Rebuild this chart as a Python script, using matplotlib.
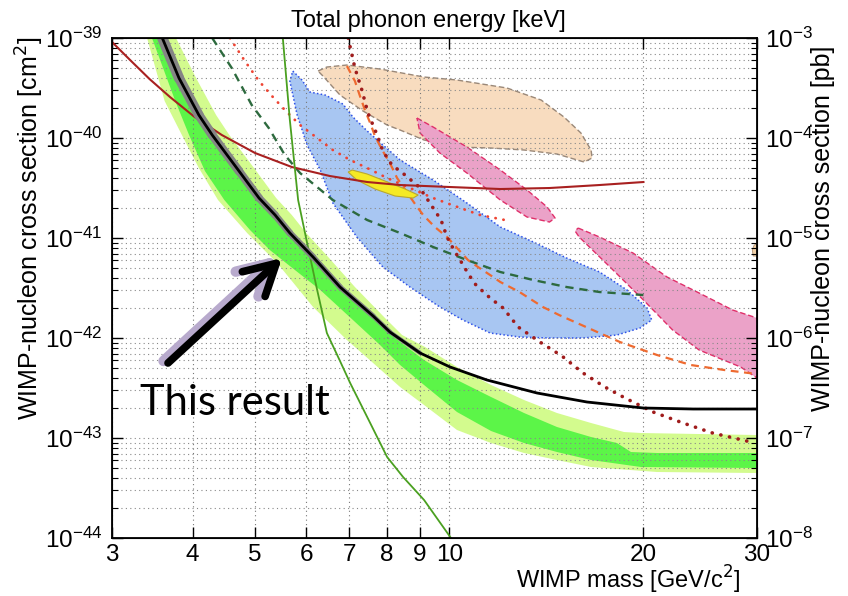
import numpy as np
import matplotlib
matplotlib.use('Agg')
import matplotlib.pyplot as plt
from matplotlib.ticker import NullLocator, FixedLocator, FixedFormatter

plt.rcParams['font.family'] = ['Liberation Sans', 'DejaVu Sans']
plt.rcParams['axes.unicode_minus'] = False

# WIMP mass [GeV/c^2] and log10(cross section [cm^2])
black_mass = [3.59, 3.81, 4.09, 4.29, 4.72, 5.07, 5.37, 5.66, 6.15, 6.77, 7.62, 8.09, 9.01, 10.03, 11.44, 13.68, 16.35, 20.0, 23.9, 30]
black_lsig = [-39.00, -39.40, -39.77, -39.97, -40.33, -40.60, -40.77, -40.95, -41.19, -41.49, -41.78, -41.94, -42.15, -42.29, -42.42, -42.55, -42.64, -42.70, -42.71, -42.71]

# expected sensitivity bands (2 sigma light, 1 sigma dark)
lu_mass = [3.77, 4.05, 4.35, 4.56, 5.02, 5.39, 5.70, 6.00, 6.49, 7.14, 7.95, 8.45, 9.17, 10.28, 11.61, 13.06, 14.69, 16.59, 18.66, 19.83, 30]
lu_lsig = [-39.00, -39.40, -39.77, -39.97, -40.33, -40.60, -40.77, -40.95, -41.19, -41.49, -41.80, -41.97, -42.09, -42.29, -42.47, -42.62, -42.75, -42.85, -42.94, -42.95, -42.97]
ll_mass = [3.40, 3.62, 3.85, 4.09, 4.38, 4.86, 5.41, 6.15, 6.94, 7.62, 8.39, 9.14, 10.28, 11.61, 13.06, 14.69, 16.59, 21.0, 30]
ll_lsig = [-39.00, -39.63, -39.97, -40.30, -40.62, -40.95, -41.25, -41.69, -42.02, -42.25, -42.49, -42.67, -42.92, -43.05, -43.15, -43.22, -43.29, -43.34, -43.35]
du_mass = [3.62, 3.85, 4.14, 4.33, 4.77, 5.12, 5.43, 5.72, 6.21, 6.84, 7.70, 8.24, 9.14, 10.28, 11.61, 13.06, 14.69, 16.59, 18.2, 19.13, 21.0, 30]
du_lsig = [-39.00, -39.40, -39.77, -39.97, -40.33, -40.60, -40.77, -40.95, -41.19, -41.49, -41.80, -42.00, -42.22, -42.42, -42.59, -42.75, -42.89, -42.99, -43.05, -43.14, -43.15, -43.15]
dl_mass = [3.46, 3.76, 3.95, 4.18, 4.48, 4.91, 5.27, 5.66, 6.31, 7.09, 7.81, 8.39, 9.14, 10.28, 11.61, 13.06, 14.69, 16.59, 19.83, 30]
dl_lsig = [-39.00, -39.63, -39.97, -40.33, -40.62, -40.92, -41.12, -41.28, -41.52, -41.82, -42.07, -42.27, -42.47, -42.74, -42.93, -43.05, -43.14, -43.22, -43.29, -43.30]

# other limits
red_mass = [3.00, 3.20, 3.43, 3.69, 4.03, 4.44, 5.00, 5.70, 6.53, 7.46, 8.39, 10.03, 12.0, 14.3, 17.1, 20.0]
red_lsig = [-39.04, -39.22, -39.41, -39.59, -39.79, -39.97, -40.15, -40.29, -40.38, -40.44, -40.47, -40.49, -40.51, -40.50, -40.47, -40.44]
grn_mass = [5.52, 5.66, 5.83, 6.02, 6.24, 6.46, 6.77, 7.02, 7.54, 8.01, 8.48, 9.14, 10.06]
grn_lsig = [-39.00, -39.82, -40.62, -41.05, -41.52, -41.95, -42.23, -42.45, -42.85, -43.19, -43.39, -43.62, -44.00]
dgd_mass = [4.29, 4.60, 4.94, 5.25, 5.56, 5.87, 6.60, 7.46, 8.39, 9.44, 10.65, 12.0, 13.5, 15.2, 17.1, 20.0]
dgd_lsig = [-39.00, -39.30, -39.67, -39.90, -40.17, -40.35, -40.62, -40.82, -40.95, -41.09, -41.22, -41.34, -41.42, -41.49, -41.54, -41.57]
lrd_mass = [4.57, 4.82, 5.07, 5.31, 5.56, 5.87, 6.24, 6.60, 7.02, 7.46, 8.01, 8.69, 9.44, 10.10, 11.16, 12.2]
lrd_lsig = [-39.00, -39.23, -39.43, -39.58, -39.72, -39.87, -40.00, -40.12, -40.22, -40.30, -40.40, -40.50, -40.60, -40.67, -40.77, -40.82]
drd_mass = [6.97, 7.14, 7.32, 7.48, 7.73, 7.89, 8.15, 8.54, 8.98, 9.20, 9.44, 9.71, 9.92, 10.17, 10.46, 10.73, 11.00, 11.57, 12.12, 12.79, 13.82, 14.95, 16.12, 17.43, 18.73, 20.7, 23.04, 25.6, 29.8]
drd_lsig = [-39.00, -39.30, -39.52, -39.75, -39.97, -40.13, -40.27, -40.37, -40.49, -40.59, -40.70, -40.82, -40.99, -41.12, -41.25, -41.37, -41.47, -41.60, -41.70, -41.89, -42.04, -42.18, -42.35, -42.49, -42.60, -42.74, -42.85, -42.95, -43.05]
ord_mass = [6.94, 7.14, 7.27, 7.40, 7.54, 7.67, 7.87, 8.09, 8.30, 8.85, 9.11, 9.50, 9.92, 10.28, 10.69, 11.08, 11.57, 12.0, 12.85, 13.97, 14.8, 15.78, 17.1, 18.39, 21.0, 23.7, 26.7, 30]
ord_lsig = [-39.28, -39.43, -39.58, -39.72, -39.85, -39.98, -40.12, -40.25, -40.40, -40.66, -40.77, -40.89, -40.99, -41.10, -41.22, -41.29, -41.37, -41.44, -41.54, -41.69, -41.77, -41.85, -41.95, -42.04, -42.17, -42.27, -42.32, -42.36]

# signal regions (closed contours)
blue_mass = [5.72, 5.91, 6.08, 6.42, 6.84, 7.09, 7.46, 7.89, 8.39, 9.44, 10.65, 12.0, 13.5, 15.2, 17.1, 18.86, 20.26, 20.6, 19.76, 18.2, 16.12, 14.3, 12.85, 11.57, 10.5, 9.67, 8.69, 7.89, 7.19, 6.60, 6.31, 6.02, 5.81, 5.66]
blue_lsig = [-39.33, -39.42, -39.54, -39.57, -39.66, -39.79, -39.93, -40.07, -40.22, -40.42, -40.65, -40.89, -41.04, -41.20, -41.34, -41.52, -41.70, -41.82, -41.90, -41.97, -42.00, -42.00, -41.99, -41.95, -41.82, -41.69, -41.49, -41.29, -40.99, -40.65, -40.32, -40.07, -39.77, -39.43]
tan_mass = [6.26, 6.46, 6.94, 7.81, 9.14, 10.28, 12.29, 13.88, 15.06, 16.0, 16.59, 16.65, 16.18, 14.69, 13.06, 11.61, 10.28, 9.14, 8.39, 8.01, 7.35, 6.77, 6.37]
tan_lsig = [-39.33, -39.29, -39.27, -39.31, -39.39, -39.42, -39.50, -39.62, -39.79, -39.95, -40.12, -40.20, -40.24, -40.16, -40.12, -40.10, -40.09, -40.02, -39.92, -39.87, -39.73, -39.57, -39.38]
pink1_mass = [8.91, 9.44, 10.65, 12.0, 13.2, 14.18, 14.59, 14.3, 13.2, 12.0, 10.65, 9.67, 9.01]
pink1_lsig = [-39.80, -39.89, -40.09, -40.32, -40.52, -40.69, -40.80, -40.84, -40.79, -40.62, -40.35, -40.15, -39.95]
pink2_mass = [15.84, 17.1, 19.27, 21.76, 24.4, 27.5, 30, 30, 28.3, 24.4, 22.2, 20.0, 17.75, 15.9, 15.67]
pink2_lsig = [-40.90, -40.99, -41.15, -41.39, -41.55, -41.72, -41.80, -42.40, -42.29, -42.12, -41.92, -41.62, -41.29, -40.99, -40.93]
yel_mass = [6.97, 7.07, 7.46, 7.95, 8.54, 8.95, 8.79, 8.24, 7.67, 7.19]
yel_lsig = [-40.34, -40.32, -40.36, -40.43, -40.51, -40.57, -40.60, -40.58, -40.51, -40.42]
blob_mass = [29.5, 29.7, 30, 30, 29.6]
blob_lsig = [-41.12, -41.07, -41.06, -41.18, -41.18]

x_ticks = [3, 4, 5, 6, 7, 8, 9, 10, 20, 30]
x_labels = ['3', '4', '5', '6', '7', '8', '9', '10', '20', '30']


def sig(v):
    return np.power(10.0, v)


fig = plt.figure(figsize=(8.48, 5.96), dpi=100)
ax = fig.add_axes([0.1321, 0.0973, 0.7606, 0.8389])
ax.set_xscale('log')
ax.set_yscale('log')
ax.set_xlim(3, 30)
ax.set_ylim(1e-44, 1e-39)

# bands
ax.fill(lu_mass + ll_mass[::-1], list(sig(lu_lsig)) + list(sig(ll_lsig[::-1])),
        color='#d3fb8e', lw=0, zorder=1)
ax.fill(du_mass + dl_mass[::-1], list(sig(du_lsig)) + list(sig(dl_lsig[::-1])),
        color='#5cf548', lw=0, zorder=1.1)

# regions
ax.fill(tan_mass, sig(tan_lsig), facecolor='#f8dcbf', edgecolor='#9a8878', lw=1.0, ls=(0, (4, 2)), zorder=1.2)
ax.fill(blue_mass, sig(blue_lsig), facecolor='#a8c6f2', edgecolor='#2f52e8', lw=1.1, ls=(0, (1, 1.5)), zorder=1.2)
ax.fill(pink1_mass, sig(pink1_lsig), facecolor='#eba2c8', edgecolor='#e0306a', lw=1.0, ls=(0, (4, 2)), zorder=1.2)
ax.fill(pink2_mass, sig(pink2_lsig), facecolor='#eba2c8', edgecolor='#e0306a', lw=1.0, ls=(0, (4, 2)), zorder=1.2)
ax.fill(blob_mass, sig(blob_lsig), facecolor='#f0d0a8', edgecolor='#b09070', lw=0.6, zorder=1.2)

# limit curves
ax.plot(dgd_mass, sig(dgd_lsig), color='#2d6a3e', lw=1.7, ls=(0, (3.5, 2.5)), zorder=2)
ax.plot(lrd_mass, sig(lrd_lsig), color='#ee4433', lw=2.0, ls=(0, (0.1, 2.8)), dash_capstyle='round', zorder=2)
ax.plot(ord_mass, sig(ord_lsig), color='#ee6a30', lw=1.6, ls=(0, (3.5, 2.5)), zorder=2)
ax.plot(drd_mass, sig(drd_lsig), color='#a01c1c', lw=2.6, ls=(0, (0.05, 2.4)), dash_capstyle='round', zorder=2)
ax.fill(yel_mass, sig(yel_lsig), facecolor='#f5ea25', edgecolor='#b8a830', lw=0.8, zorder=2.1)
ax.plot(red_mass, sig(red_lsig), color='#a82020', lw=1.5, zorder=2.2)
ax.plot(grn_mass, sig(grn_lsig), color='#4aa020', lw=1.3, zorder=2.2)

# grey halo around the result, fading towards higher masses
n_halo = 13
for i in range(n_halo - 1):
    w = 7.5 - 4.5 * i / (n_halo - 2)
    ax.plot(black_mass[i:i + 2], sig(black_lsig[i:i + 2]), color='#858585', lw=w,
            solid_capstyle='round', zorder=2.3)
ax.plot(black_mass, sig(black_lsig), color='black', lw=2.0, zorder=2.4)

# grid and ticks
ax.set_axisbelow('line')
ax.xaxis.set_major_locator(FixedLocator(x_ticks))
ax.xaxis.set_major_formatter(FixedFormatter(x_labels))
ax.xaxis.set_minor_locator(NullLocator())
ax.grid(True, which='major', axis='x', color='#777777', lw=0.8, ls=(0, (1, 3)))
ax.grid(True, which='both', axis='y', color='#888888', lw=0.8, ls=(0, (1, 3)))
ax.tick_params(which='both', direction='in', top=True, right=False, labelsize=17.5, pad=7)
ax.tick_params(axis='x', pad=4.5)
ax.tick_params(which='major', length=8, width=1.0)
ax.tick_params(which='minor', length=4, width=0.8)
for s in ax.spines.values():
    s.set_linewidth(1.3)

ax2 = ax.twinx()
ax2.set_yscale('log')
ax2.set_ylim(1e-8, 1e-3)
ax2.tick_params(which='both', direction='in', labelsize=17.5, pad=6)
ax2.tick_params(which='major', length=8, width=1.0)
ax2.tick_params(which='minor', length=4, width=0.8)

ax.set_ylabel('WIMP-nucleon cross section [cm$^2$]', fontsize=18)
ax.yaxis.set_label_coords(-0.103, 0.62)
ax2.set_ylabel('WIMP-nucleon cross section [pb]', fontsize=18)
ax2.yaxis.set_label_coords(1.084, 0.62)
ax.set_xlabel('WIMP mass [GeV/c$^2$]', fontsize=17)
ax.xaxis.label.set_va('baseline')
ax.xaxis.set_label_coords(0.80, -0.102)
ax.text(0.49, 1.022, 'Total phonon energy [keV]', transform=ax.transAxes,
        ha='center', va='baseline', fontsize=17)

# annotation
tip = (0.2636, 0.560)
tail = (0.0868, 0.350)
off = (-0.007, 0.004)
ax.annotate('', xy=(tip[0] + off[0], tip[1] + off[1]), xytext=(tail[0] + off[0], tail[1] + off[1]),
            xycoords='axes fraction', textcoords='axes fraction',
            arrowprops=dict(arrowstyle='->,head_length=1.0,head_width=0.55', lw=7.5, color='#b8aacd',
                            mutation_scale=22, shrinkA=0, shrinkB=0, capstyle='round', joinstyle='round'),
            zorder=5)
ax.annotate('', xy=tip, xytext=tail, xycoords='axes fraction', textcoords='axes fraction',
            arrowprops=dict(arrowstyle='->,head_length=1.0,head_width=0.55', lw=5.5, color='black',
                            mutation_scale=22, shrinkA=0, shrinkB=0, capstyle='round', joinstyle='round'),
            zorder=6)
ax.text(0.0434, 0.246, 'This result', transform=ax.transAxes, ha='left', va='baseline',
        fontsize=30, family=['Lato', 'DejaVu Sans'], zorder=6)

fig.savefig('out.png', dpi=100)
